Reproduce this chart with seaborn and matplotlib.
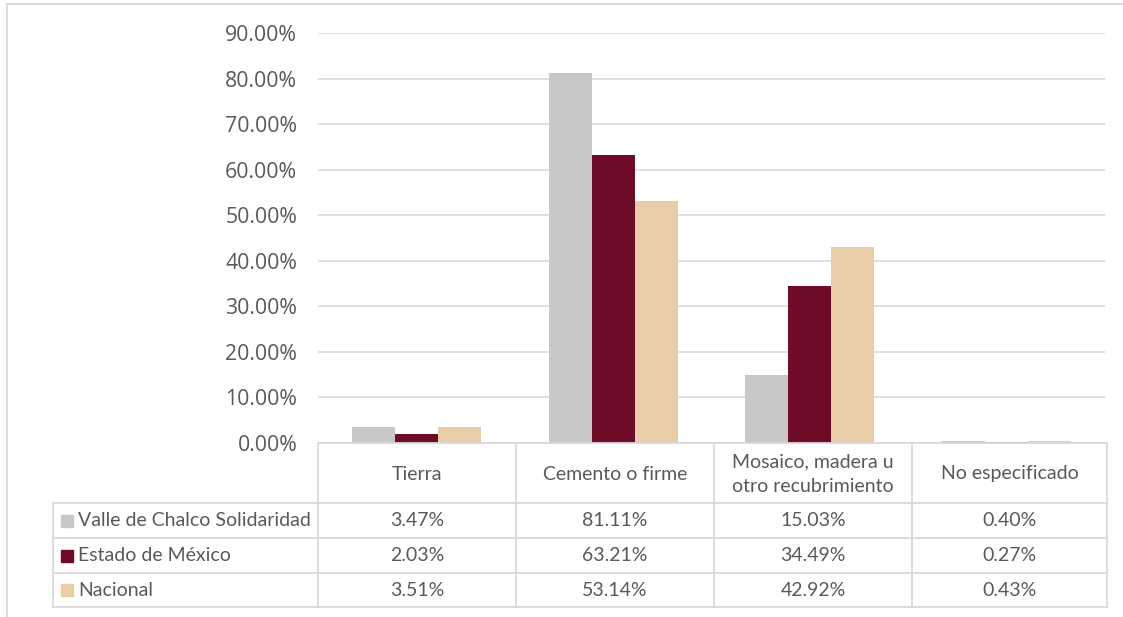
import numpy as np
import pandas as pd
import seaborn as sns
import matplotlib.pyplot as plt
from matplotlib.lines import Line2D
from matplotlib.patches import Rectangle

# data
categories = ['Tierra', 'Cemento o firme', 'Mosaico, madera u\notro recubrimiento', 'No especificado']
series = ['Valle de Chalco Solidaridad', 'Estado de México', 'Nacional']
valle = [3.47, 81.11, 15.03, 0.40]
edomex = [2.03, 63.21, 34.49, 0.27]
nacional = [3.51, 53.14, 42.92, 0.43]
colors = ['#C8C8C8', '#6E0C28', '#E8CDA8']
yticks = [0, 10, 20, 30, 40, 50, 60, 70, 80, 90]

W, H = 1123, 617
GRID = '#D9D9D9'
TXT = '#595959'

df = pd.DataFrame({
    'cat': categories * 3,
    'serie': [s for s in series for _ in categories],
    'val': valle + edomex + nacional,
})

sns.set_style('white')
plt.rcParams['font.family'] = ['Lato', 'DejaVu Sans']

fig = plt.figure(figsize=(W / 100, H / 100), dpi=100)

def fx(px):
    return px / W

def fy(py):
    return 1 - py / H

# main plot area
ax = fig.add_axes([fx(318), fy(443), fx(1105) - fx(318), fy(33) - fy(443)])
sns.barplot(data=df, x='cat', y='val', hue='serie', palette=colors, width=0.655,
            ax=ax, legend=False, saturation=1, order=categories, hue_order=series,
            linewidth=0)
ax.set_ylim(0, 90)
ax.set_xlim(-0.5, len(categories) - 0.5)
ax.set_yticks(yticks)
ax.set_yticklabels([f'{t:.2f}%' for t in yticks], color=TXT, fontsize=15.3,
                   family=['Open Sans', 'DejaVu Sans'])
ax.tick_params(axis='y', length=0, pad=15)
ax.set_xticks([])
ax.set_xlabel('')
ax.set_ylabel('')
ax.grid(axis='y', color=GRID, lw=1.2)
ax.set_axisbelow(True)
for s in ax.spines.values():
    s.set_visible(False)

# data table below the plot
tab = fig.add_axes([fx(53), fy(607), fx(1107) - fx(53), fy(443) - fy(607)])
tab.set_xlim(53, 1107)
tab.set_ylim(607, 443)
tab.axis('off')
col_edges = [318, 516, 714, 912, 1107]
row_edges = [503, 538, 573, 607]
lw = 1.3
tab.plot([318, 1107], [443, 443], color=GRID, lw=lw, clip_on=False)
for y in row_edges:
    tab.plot([53, 1107], [y, y], color=GRID, lw=lw, clip_on=False)
for x in col_edges:
    tab.plot([x, x], [443, 607], color=GRID, lw=lw, clip_on=False)
tab.plot([53, 53], [503, 607], color=GRID, lw=lw, clip_on=False)

fs = 14
for i, c in enumerate(categories):
    xc = (col_edges[i] + col_edges[i + 1]) / 2
    tab.text(xc, 474, c, ha='center', va='center', fontsize=fs, color=TXT, linespacing=1.5)

for r, (name, vals, col) in enumerate(zip(series, [valle, edomex, nacional], colors)):
    yc = (row_edges[r] + row_edges[r + 1]) / 2
    tab.add_patch(Rectangle((61, yc - 6), 12, 12, color=col, clip_on=False))
    tab.text(78, yc, name, ha='left', va='center', fontsize=fs, color=TXT)
    for i, v in enumerate(vals):
        xc = (col_edges[i] + col_edges[i + 1]) / 2
        tab.text(xc, yc, f'{v:.2f}%', ha='center', va='center', fontsize=fs, color=TXT)

# chart outer border (cropped in the original)
fig.add_artist(Line2D([fx(7), 1], [fy(4), fy(4)], color=GRID, lw=1.3))
fig.add_artist(Line2D([fx(7), fx(7)], [fy(4), 0], color=GRID, lw=1.3))

fig.savefig('out.png', dpi=100, facecolor='white')
